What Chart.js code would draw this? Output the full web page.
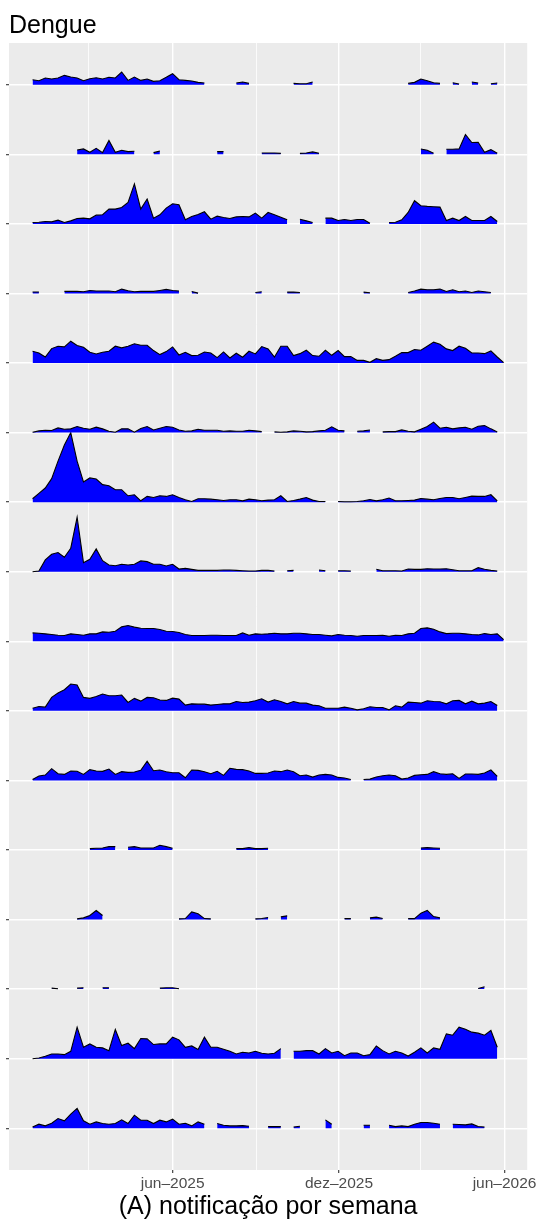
<!DOCTYPE html>
<html lang="pt-BR">
<head>
<meta charset="utf-8">
<title>Dengue</title>
<script src="https://cdn.jsdelivr.net/npm/chart.js@4.4.1/dist/chart.umd.min.js"></script>
<style>
  html, body { margin: 0; padding: 0; background: #ffffff; }
  canvas { display: block; }
</style>
</head>
<body>
<canvas id="grafico" width="540" height="1222"></canvas>
<script>
// Dengue - notificação por semana, uma linha (ridge) por local

const _ = null;

const titulo = "Dengue";
const tituloX = "(A) notificação por semana";

// semanas epidemiológicas a partir de 29/12/2024
const inicioSemanas = "2024-12-29";
const rotulosX = ["jun–2025", "dez–2025", "jun–2026"];
const datasRotulos = ["2025-06-01", "2025-12-01", "2026-06-01"];
const datasSecundarias = ["2025-03-01", "2025-09-01", "2026-03-01"];

// valores semanais (null = sem dado)
const linha01 = [7.2, 5.8, 9.6, 8.2, 9.6, 13.4, 11, 9.6, 5.8, 8.6,
  10, 8.2, 10.6, 9.6, 18.2, 6.2, 11, 6.2, 8.2, 4.8,
  5.8, 10.6, 15.8, 7.2, 6.2, 5.3, 3.4, 2.4, _, _,
  _, _, 2.4, 3.8, 1.9, _, _, _, _, _,
  _, 1.9, 1.4, 1.4, 3.8, _, _, _, _, _,
  _, _, _, _, _, _, _, _, _, 1.9,
  3.4, 8.2, 5.8, 2.9, 1.9, _, 2.9, 1, _, 3.8,
  2.4, _, 1.4, 2.4, _];
const linha02 = [_, _, _, _, _, _, _, 6.2, 7.7, 2.9,
  8.6, 2.4, 19.7, 2.9, 5.8, 3.8, 4.3, _, _, 2.4,
  4.8, _, _, _, _, _, _, _, _, 3.8,
  3.8, _, _, _, _, _, 1.9, 1.9, 1.9, 1.4,
  _, _, 1.4, 1.9, 3.4, 1.4, _, _, _, _,
  _, _, _, _, _, _, _, _, _, _,
  _, 7.7, 5.8, 1.4, _, 7.2, 7.2, 7.7, 28.3, 16.8,
  17.3, 2.9, 6.7, 1.4, _];
const linha03 = [1.9, 2.4, 3.4, 2.9, 5.3, 1.9, 4.3, 7.7, 8.2, 7.2,
  12.5, 13, 21.1, 21.1, 23.5, 30.7, 57.1, 21.1, 35.5, 8.2,
  13, 22.6, 28.8, 27.4, 5.8, 10.6, 13.4, 17.3, 6.7, 11,
  9.1, 7.7, 10, 10.6, 10, 15.4, 8.2, 16.3, 13, 9.6,
  5.8, _, 6.7, 4.3, 1.9, _, 8.2, 8.2, 4.8, 6.2,
  4.8, 6.2, 6.2, 1, _, _, 1.9, 2.4, 5.8, 16.3,
  33.1, 25.9, 25, 24.5, 24, 4.8, 8.2, 4.8, 10.6, 4.8,
  4.8, 4.8, 10.6, 3.4, _];
const linha04 = [2, 2, _, _, _, 2.9, 2.9, 2.9, 2.4, 4.3,
  3.4, 3.4, 3.4, 2.4, 6.2, 3.8, 2.4, 2.9, 2.9, 2.9,
  4.3, 5.8, 4.3, 3.4, _, 2.9, 0.5, _, _, _,
  _, _, _, _, _, 1.4, 2.4, _, _, _,
  1.9, 1.9, 1.4, _, _, _, _, _, _, _,
  _, _, 1.9, 1, _, _, _, _, _, 1.4,
  3.4, 6.2, 5.3, 5.3, 6.2, 2.9, 5.3, 2.4, 3.4, 1.4,
  3.4, 2.4, 1.4, _, _];
const linha05 = [16.8, 14.4, 8.6, 20.6, 24, 23, 31.2, 25, 22.6, 15.4,
  13, 15.4, 16.8, 24, 21.6, 24, 27.4, 25.4, 25.4, 17.8,
  12, 16.3, 23, 11.5, 15.4, 10.6, 11, 15.8, 14.4, 7.7,
  15.8, 7.2, 13.9, 8.2, 16.8, 13, 23.5, 20.2, 8.6, 24,
  24, 10.6, 13.4, 18.2, 10.6, 9.6, 18.2, 11, 17.8, 9.1,
  9.1, 3.8, 3.8, 1, 6.2, 3.8, 4.8, 9.6, 14.9, 14.9,
  19.2, 18.2, 24, 29.8, 26.9, 20.2, 17.8, 24, 21.1, 14.4,
  14.4, 13.4, 17.3, 8.6, 0.5];
const linha06 = [0.5, 2.4, 3.4, 2.9, 6.7, 4.8, 5.3, 8.6, 6.2, 4.8,
  7.7, 5.3, 1.9, 0.5, 5.3, 5.3, 0.5, 5.8, 8.6, 3.8,
  6.2, 8.6, 7.7, 3.8, 1.9, 2.4, 4.8, 3.4, 3.4, 3.4,
  1.9, 2.4, 1.9, 1.9, 3.4, 2.4, 1.4, _, 1, 0.5,
  1, 2.4, 1.9, 1, 1.4, 2.4, 3.4, 8.2, 3.4, 2.4,
  _, 1.9, 2.4, 3.8, _, 1, 1.4, 1.4, 3.8, 1.9,
  1, 4.8, 8.6, 14.9, 6.2, 7.7, 5.3, 6.7, 7.7, 4.8,
  9.1, 10, 5.3, 1, _];
const linha07 = [4.8, 12.5, 20.2, 33.6, 58.6, 81.6, 99.4, 58.6, 28.8, 34.6,
  33.1, 25, 23.5, 17.8, 17.8, 9.1, 10.6, 1.9, 8.2, 6.7,
  9.1, 8.2, 10.6, 6.7, 3.4, 1, 4.8, 4.8, 4.3, 3.4,
  2.4, 3.4, 3.4, 1.9, 4.3, 3.4, 1.9, 2.9, 3.4, 9.1,
  1, 2.4, 4.3, 6.7, 2.9, 1, 1, _, 1, 0.5,
  0.5, 1, 1.9, 3.8, 1.9, 3.4, 5.8, 1.9, 1.9, 2.4,
  2.9, 5.3, 4.3, 3.4, 5.3, 6.7, 6.7, 4.8, 6.7, 8.6,
  8.2, 8.2, 10.6, 1.9, _];
const linha08 = [0, 1, 16.8, 25, 27.4, 20.6, 33.6, 77.8, 13, 17.8,
  32.6, 15.8, 9.6, 8.6, 10.6, 9.6, 10.6, 15.4, 14.4, 10.6,
  10.6, 8.2, 10.6, 3.8, 4.8, 3.4, 1.9, 1.9, 1.9, 1.9,
  2.4, 2.4, 1.9, 1.4, 1, 1, 1.9, 1.9, 1, _,
  1.4, 1.9, _, _, _, 2.4, 1.4, _, 1.4, 1.4,
  1, _, _, _, 3.4, 1.4, 1.4, 1.4, 1, 3.8,
  3.4, 3.4, 4.3, 3.8, 3.8, 4.3, 2.9, 1.4, 1.4, 1.4,
  5.8, 3.4, 1.9, 1, _];
const linha09 = [12, 11.5, 10.6, 9.6, 8.6, 8.2, 10.6, 9.6, 8.6, 10.6,
  10.6, 13.4, 13, 14.4, 20.6, 22.6, 20.2, 18.7, 18.2, 18.2,
  16.8, 14.4, 13.9, 12.5, 9.6, 8.2, 8.2, 8.2, 8.6, 8.6,
  8.2, 8.2, 8.2, 12, 8.6, 10.6, 10, 10.6, 11.5, 10.6,
  10.6, 11.5, 11.5, 10.6, 9.6, 9.6, 8.6, 7.7, 9.6, 8.6,
  8.2, 7.2, 8.2, 8.2, 8.2, 8.6, 7.2, 8.6, 8.2, 10.6,
  11.5, 18.2, 19.2, 17.3, 13.4, 11, 11.5, 11.5, 10.6, 9.6,
  9.1, 11, 9.6, 10.6, 2.4];
const linha10 = [3.8, 6.2, 5.3, 19.2, 25.4, 30.2, 38.4, 37, 19.2, 17.8,
  20.6, 24, 21.6, 21.6, 22.6, 12, 17.8, 13.9, 19.2, 18.7,
  15.4, 14.9, 18.2, 16.8, 8.2, 10, 9.6, 9.6, 8.2, 9.1,
  10, 10, 13.4, 12, 12.5, 14.4, 17.3, 12.5, 15.8, 13.4,
  10, 13.4, 11, 11, 8.2, 7.2, 3.8, 3.8, 3.8, 5.3,
  3.8, 1.4, 2.9, 5.8, 4.8, 4.8, 1.4, 7.2, 5.3, 12.5,
  12, 11, 14.4, 13.4, 13, 10, 14.4, 14.9, 10, 13.9,
  10, 11, 13.4, 7.7, _];
const linha11 = [1.4, 6.2, 7.7, 16.8, 9.6, 8.6, 13.4, 13, 8.6, 15.4,
  13.4, 13, 16.3, 8.6, 12.5, 11.5, 12, 14.4, 27.4, 13.9,
  14.9, 12.5, 11, 11, 3.8, 14.9, 14.4, 12.5, 9.6, 13,
  7.2, 17.3, 15.8, 15.4, 13.4, 10, 10, 10.6, 13.4, 12.5,
  14.9, 12.5, 6.7, 7.7, 4.8, 7.7, 8.6, 7.7, 4.3, 3.4,
  1.4, _, 1.4, 1.9, 4.8, 6.7, 7.7, 6.7, 1.9, 3.4,
  7.2, 8.2, 8.6, 12.5, 9.6, 8.6, 9.6, 2.9, 9.1, 9.1,
  8.6, 10.6, 14.9, 5.8, _];
const linha12 = [_, _, _, _, _, _, _, _, _, 1.9,
  2.4, 2.9, 4.8, 4.8, _, 3.8, 4.8, 2.9, 2.9, 2.9,
  6.7, 4.8, 2.4, _, _, _, _, _, _, _,
  _, _, 1.9, 1.9, 3.4, 1.9, 1.9, 2.4, _, _,
  _, _, _, _, _, _, _, _, _, _,
  _, _, _, _, _, _, _, _, _, _,
  _, 2.9, 3.4, 2.9, 2.4, _, _, _, _, _,
  _, _, _, _, _];
const linha13 = [_, _, _, _, _, _, _, 1, 2.4, 5.8,
  13, 5.8, _, _, _, _, _, _, _, _,
  _, _, _, 1, 1.4, 11, 8.2, 1.4, 1, _,
  _, _, _, _, _, 1, 1.4, 2.9, _, 3.8,
  5.3, _, _, _, _, _, _, _, _, 1.4,
  1.4, _, _, 2.4, 3.4, 1.4, _, _, _, 1.4,
  1.4, 9.1, 13, 4.3, 2.4, _, _, _, _, _,
  _, _, _, _, _];
const linha14 = [_, _, _, 1.4, 0.5, _, _, 1.4, 1.9, _,
  _, 2, 2, _, _, _, _, _, _, _,
  1.4, 1.9, 1.9, 0.5, _, _, _, _, _, _,
  _, _, _, _, _, _, _, _, _, _,
  _, _, _, _, _, _, _, _, _, _,
  _, _, _, _, _, _, _, _, _, _,
  _, _, _, _, _, _, _, _, _, _,
  1, 3.4, _, _, _];
const linha15 = [0, 1, 3.4, 6.7, 6.7, 5.8, 10.6, 45.1, 16.3, 21.1,
  16.3, 15.4, 11.5, 41.8, 18.7, 22.1, 14.4, 28.8, 28.3, 20.2,
  21.1, 21.1, 30.7, 26.9, 16.3, 18.2, 13, 30.7, 16.3, 16.3,
  13.4, 10.6, 6.7, 9.1, 8.2, 10.6, 7.7, 6.7, 7.7, 14.4,
  _, 10.6, 10.6, 11.5, 11.5, 6.7, 14.4, 8.2, 10.6, 4.3,
  8.2, 8.2, 4.3, 5.8, 18.2, 11.5, 6.7, 10.6, 8.2, 3.8,
  9.1, 15.4, 8.2, 15.4, 13.4, 35.5, 33.6, 45.1, 42.2, 37.9,
  36.5, 33.6, 40.3, 16.3, _];
const linha16 = [1.9, 5.8, 3.4, 7.2, 13.9, 10.6, 20.2, 28.3, 10.6, 5.8,
  9.1, 6.7, 5.8, 6.7, 12, 6.7, 18.7, 11.5, 11.5, 6.7,
  11.5, 9.1, 13, 5.8, 7.2, 3.4, 9.1, 5.8, _, 6.7,
  4.3, 3.4, 3.4, 3.8, 2.9, _, _, 2.4, 2.4, 2.4,
  _, 1.9, 2.9, _, _, _, 12, 5.8, _, _,
  _, _, 4.3, 4.3, _, _, 4.3, 2.4, 3.4, 2.4,
  5.8, 8.2, 8.2, 7.2, 5.8, _, 5.8, 5.3, 4.8, 6.2,
  2.4, 1.9, _, _, _];

const linhas = [linha01, linha02, linha03, linha04, linha05, linha06, linha07, linha08,
  linha09, linha10, linha11, linha12, linha13, linha14, linha15, linha16];

// eixo x em dias desde a primeira semana
const DIA = 86400000;
const t0 = Date.parse(inicioSemanas);
const dias = (d) => (Date.parse(d) - t0) / DIA;

const nSemanas = Math.max(...linhas.map((l) => l.length));
const ultimoDia = (nSemanas - 1) * 7;
const folgaX = ultimoDia * 0.05;
const maxValor = Math.max(...linhas.flat().filter((v) => v !== null));
const nLinhas = linhas.length;

const marcasPrincipais = datasRotulos.map(dias);
const marcasSecundarias = datasSecundarias.map(dias);
const ehPrincipal = (v) => marcasPrincipais.includes(v);

const fonte = "'Liberation Sans', Arial, Helvetica, sans-serif";

const datasets = linhas.map((serie, i) => {
  const base = nLinhas - i;
  return {
    data: serie.map((v, k) => ({ x: k * 7, y: v === null ? null : base + v / maxValor })),
    fill: { value: base },
    backgroundColor: "#0000FF",
    borderColor: "#000000",
    borderWidth: 1.1,
    pointRadius: 0,
    tension: 0,
    spanGaps: false,
  };
});

// fundo cinza do painel (estilo ggplot)
const fundoPainel = {
  id: "fundoPainel",
  beforeDraw(chart) {
    const { ctx, chartArea: a } = chart;
    ctx.save();
    ctx.fillStyle = "#EBEBEB";
    ctx.fillRect(a.left, a.top, a.right - a.left, a.bottom - a.top);
    ctx.restore();
  },
};

new Chart(document.getElementById("grafico"), {
  type: "line",
  data: { datasets },
  plugins: [fundoPainel],
  options: {
    responsive: false,
    animation: false,
    events: [],
    layout: { padding: { left: 0, right: 10.8, top: 0, bottom: 0 } },
    plugins: {
      legend: { display: false },
      tooltip: { enabled: false },
      title: {
        display: true,
        text: titulo,
        align: "start",
        fullSize: false,
        color: "#000000",
        font: { family: fonte, size: 25, weight: "normal", lineHeight: 1.2 },
        padding: { top: 11, bottom: 2 },
      },
    },
    scales: {
      x: {
        type: "linear",
        min: -folgaX,
        max: ultimoDia + folgaX,
        afterBuildTicks: (s) => {
          s.ticks = [...marcasSecundarias, ...marcasPrincipais]
            .sort((a, b) => a - b)
            .map((v) => ({ value: v }));
        },
        ticks: {
          autoSkip: false,
          maxRotation: 0,
          padding: 3,
          color: "#4D4D4D",
          font: { family: fonte, size: 15.5, lineHeight: 1 },
          callback: (v) => {
            const i = marcasPrincipais.indexOf(v);
            return i >= 0 ? rotulosX[i] : "";
          },
        },
        grid: {
          color: "#FFFFFF",
          lineWidth: (c) => (c.tick && ehPrincipal(c.tick.value) ? 1.4 : 0.8),
          tickColor: (c) => (c.tick && ehPrincipal(c.tick.value) ? "#333333" : "rgba(0,0,0,0)"),
          tickLength: 3,
          tickWidth: 1.1,
        },
        border: { display: false },
        title: {
          display: true,
          text: tituloX,
          color: "#000000",
          font: { family: fonte, size: 25, lineHeight: 1.0 },
          padding: { top: 0, bottom: 2.5 },
        },
      },
      y: {
        type: "linear",
        min: 0.4,
        max: nLinhas + 0.6,
        afterBuildTicks: (s) => {
          s.ticks = linhas.map((l, i) => ({ value: i + 1 }));
        },
        afterFit: (s) => {
          s.width = 9;
        },
        ticks: { callback: () => "", padding: 0 },
        grid: {
          color: "#FFFFFF",
          lineWidth: 1.4,
          tickColor: "#333333",
          tickLength: 3,
          tickWidth: 1.1,
        },
        border: { display: false },
      },
    },
  },
});
</script>
</body>
</html>
